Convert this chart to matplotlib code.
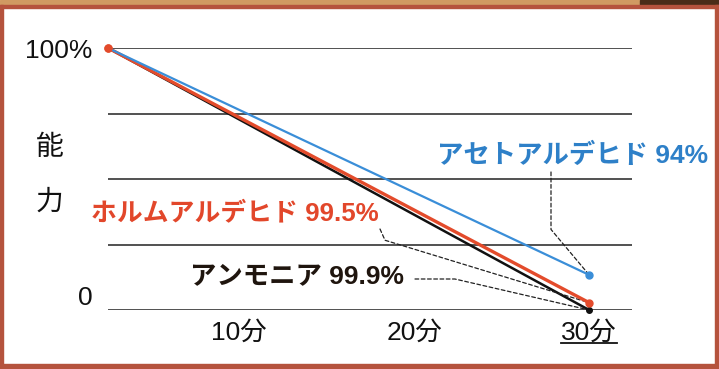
import matplotlib
matplotlib.use("Agg")
import matplotlib.pyplot as plt
from matplotlib.patches import Rectangle
from matplotlib.lines import Line2D

plt.rcParams['font.family'] = ['Liberation Sans', 'Noto Sans CJK JP', 'DejaVu Sans']

# ---- data ----
minutes = [2.5, 30]
acetaldehyde = [100, 13.4]
formaldehyde = [100, 2.8]
ammonia = [100, 0]
x_ticks = [10, 20, 30]
x_tick_labels = ['10分', '20分', '30分']
y_ticks = [0, 25, 50, 75, 100]
y_tick_labels = ['0', '', '', '', '100%']
label_acet = 'アセトアルデヒド 94%'
label_form = 'ホルムアルデヒド 99.5%'
label_ammo = 'アンモニア 99.9%'
y_title = '能\n力'

W, H = 719, 369
fig = plt.figure(figsize=(W / 100, H / 100), dpi=100)
fig.patch.set_facecolor('white')


def fx(px):
    return px / W


def fy(py):
    return (H - py) / H


# frame decorations
fig.patches.append(Rectangle((0, fy(5)), 1, 5 / H, transform=fig.transFigure,
                             color='#d09a62', zorder=0))
fig.patches.append(Rectangle((fx(640), fy(5)), 79 / W, 5 / H, transform=fig.transFigure,
                             color='#4a2c18', zorder=0))
border = '#b5533d'
fig.patches.append(Rectangle((0, 0), fx(3), fy(5), transform=fig.transFigure, color=border))
fig.patches.append(Rectangle((fx(715), 0), fx(4), fy(5), transform=fig.transFigure, color=border))
fig.patches.append(Rectangle((0, fy(8)), 1, 3 / H, transform=fig.transFigure, color=border))
fig.patches.append(Rectangle((0, 0), 1, 5 / H, transform=fig.transFigure, color=border))

ax = fig.add_axes([fx(108), fy(310), 524 / W, 262 / H])
ax.set_facecolor('none')
ax.set_xlim(2.5, 32.45)
ax.set_ylim(0, 100)
for s in ax.spines.values():
    s.set_visible(False)

ax.set_yticks(y_ticks, y_tick_labels)
ax.set_xticks(x_ticks, x_tick_labels)
ax.tick_params(axis='both', length=0, labelsize=19, colors='#111111')
ax.tick_params(axis='y', pad=11)
ax.tick_params(axis='x', pad=8)
ax.grid(axis='y', color='#222222', lw=1.1)
ax.grid(axis='x', visible=False)
ax.get_yticklabels()[0].set_va('bottom')

ax.set_ylabel(y_title, rotation=0, fontsize=20, linespacing=2.45, color='#111111',
              ha='center', va='center')
ax.yaxis.set_label_coords(-0.111, 0.515)

ax.plot(minutes, ammonia, color='#111111', lw=1.8, marker='o', markersize=4,
        clip_on=False, zorder=3)
ax.plot(minutes, formaldehyde, color='#e34b2b', lw=2.4, marker='o', markersize=5,
        clip_on=False, zorder=4)
ax.plot(minutes, acetaldehyde, color='#3a8ed8', lw=1.6, marker='o', markersize=5,
        clip_on=False, zorder=5, markevery=[1])
ax.plot(minutes[:1], formaldehyde[:1], 'o', color='#e34b2b', markersize=5,
        clip_on=False, zorder=6)

# labels
fig.text(fx(437), fy(155), label_acet, color='#2e80c8', fontsize=19,
         fontweight='bold', ha='left', va='center')
fig.text(fx(91), fy(214), label_form, color='#e2472b', fontsize=18.6,
         fontweight='bold', ha='left', va='center')
fig.text(fx(190), fy(276), label_ammo, color='#1f150e', fontsize=19,
         fontweight='bold', ha='left', va='center')

# leader lines
lead = dict(arrowstyle='-', linestyle=(0, (3, 2)), lw=0.9, color='#222222',
            shrinkA=0, shrinkB=2)
ax.annotate('', xy=(minutes[1], acetaldehyde[1]), xycoords='data',
            xytext=(551, H - 172), textcoords='figure pixels',
            arrowprops=dict(connectionstyle='angle,angleA=90,angleB=130,rad=0', **lead))
ax.annotate('', xy=(minutes[1], formaldehyde[1]), xycoords='data',
            xytext=(380, H - 229), textcoords='figure pixels',
            arrowprops=dict(connectionstyle='angle,angleA=-66,angleB=163,rad=0', **lead))
ax.annotate('', xy=(minutes[1], ammonia[1]), xycoords='data',
            xytext=(415, H - 279), textcoords='figure pixels',
            arrowprops=dict(connectionstyle='angle,angleA=0,angleB=167,rad=0', **lead))

# underline the last x tick label
fig.canvas.draw()
bb = ax.get_xticklabels()[-1].get_window_extent()
fig.add_artist(Line2D([bb.x0 / W, bb.x1 / W], [(bb.y0 + 2) / H] * 2,
                      transform=fig.transFigure, color='#111111', lw=1.3))

fig.savefig('out.png', dpi=100)
